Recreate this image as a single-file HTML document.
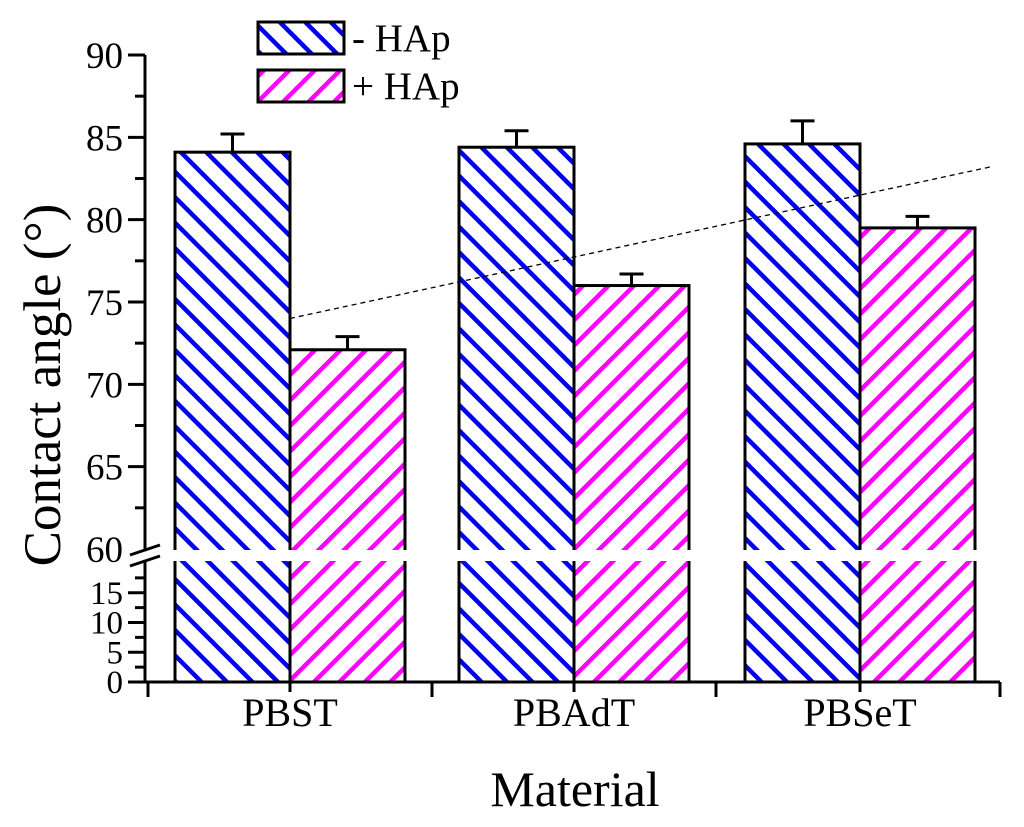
<!DOCTYPE html>
<html><head><meta charset="utf-8"><style>
body{margin:0;background:#fff}
svg{display:block;font-family:"Liberation Serif",serif}
</style></head><body>
<svg id="c" width="1024" height="827" viewBox="0 0 1024 827">
<defs>
<pattern id="hb" patternUnits="userSpaceOnUse" width="18" height="18" patternTransform="rotate(-45)">
<rect width="18" height="18" fill="#fff"/><rect x="0" y="0" width="4.5" height="18" fill="#0000ee"/></pattern>
<pattern id="hm" patternUnits="userSpaceOnUse" width="18" height="18" patternTransform="rotate(45)">
<rect width="18" height="18" fill="#fff"/><rect x="0" y="0" width="4.5" height="18" fill="#ff00ff"/></pattern>
</defs>
<g id="bars"></g>
<g id="axes"></g>
<g>
<rect x="258" y="22" width="86" height="32" fill="url(#hb)" stroke="#000" stroke-width="3"/>
<text x="352" y="51" font-size="39">- HAp</text>
<rect x="258" y="70" width="86" height="32" fill="url(#hm)" stroke="#000" stroke-width="3"/>
<text x="352" y="99" font-size="39">+ HAp</text>
</g>
<text transform="translate(60,385) rotate(-90)" text-anchor="middle" font-size="53">Contact angle (°)</text>
<text x="575" y="806" text-anchor="middle" font-size="50">Material</text>
</svg>
<script>
const categories=["PBST","PBAdT","PBSeT"];
const minusHAp=[84.1,84.4,84.6];
const minusErr=[1.1,1.0,1.4];
const plusHAp=[72.1,76.0,79.5];
const plusErr=[0.8,0.7,0.7];
const upperTicks=[60,65,70,75,80,85,90];
const lowerTicks=[0,5,10,15];
const trend=[74,83.2];
const NS="http://www.w3.org/2000/svg";
function yU(v){return 549-(v-60)*(494/30);}
function yL(v){return 682-v*5.95;}
function yAny(v){return v>=60?yU(v):yL(Math.min(v,20));}
const groupCenters=[290,574,860], bw=115;
function mk(tag,at,parent){const e=document.createElementNS(NS,tag);for(const k in at)e.setAttribute(k,at[k]);parent.appendChild(e);return e;}
const bars=document.getElementById('bars'),axes=document.getElementById('axes');
function bar(x,v,err,fill,name){
  const y=yAny(v);
  let r=mk('rect',{x:x,y:y,width:bw,height:682-y,fill:fill,stroke:'#000','stroke-width':3},bars);
  
  
  const ye=yAny(v+err),xc=x+bw/2;
  let e=mk('path',{d:`M${xc} ${y}V${ye}M${xc-12} ${ye}H${xc+12}`,stroke:'#000','stroke-width':3,fill:'none'},bars);
  
  
}
categories.forEach((c,i)=>{
  bar(groupCenters[i]-bw,minusHAp[i],minusErr[i],'url(#hb)','bar-minus-hap-'+c.toLowerCase());
  bar(groupCenters[i],plusHAp[i],plusErr[i],'url(#hm)','bar-plus-hap-'+c.toLowerCase());
  let t=mk('text',{x:groupCenters[i],y:726,'text-anchor':'middle','font-size':40},axes);t.textContent=c;
  
  
});
let br=mk('rect',{x:150,y:550,width:870,height:11,fill:'#fff'},bars);


let tl=mk('line',{x1:290,y1:yU(trend[0]),x2:990,y2:yU(trend[1]),stroke:'#000','stroke-width':1.3,'stroke-dasharray':'5,4'},axes);


let ya=mk('path',{d:'M145 55V549M145 561V682H1000',stroke:'#000','stroke-width':3,fill:'none'},axes);


let bk=mk('path',{d:'M130 555L160 545M130 566L160 556',stroke:'#000','stroke-width':3},axes);


upperTicks.forEach(v=>{const y=yU(v);
  if(v<90)mk('line',{x1:135,x2:145,y1:yU(v+2.5),y2:yU(v+2.5),stroke:'#000','stroke-width':3},axes);
  if(v>60)mk('line',{x1:128,x2:145,y1:y,y2:y,stroke:'#000','stroke-width':3},axes);
  let t=mk('text',{x:123,y:y+13,'text-anchor':'end','font-size':37},axes);t.textContent=v;
  
  });
lowerTicks.forEach(v=>{const y=yL(v);
  mk('line',{x1:128,x2:145,y1:y,y2:y,stroke:'#000','stroke-width':3},axes);
  mk('line',{x1:135,x2:145,y1:yL(v+2.5),y2:yL(v+2.5),stroke:'#000','stroke-width':3},axes);
  let t=mk('text',{x:123,y:y+11,'text-anchor':'end','font-size':33},axes);t.textContent=v;
  
  });
[148,290,432,574,716,860,1000].forEach((x,i)=>{mk('line',{x1:x,x2:x,y1:682,y2:i%2?692:697,stroke:'#000','stroke-width':3},axes);});
</script>
</body></html>
